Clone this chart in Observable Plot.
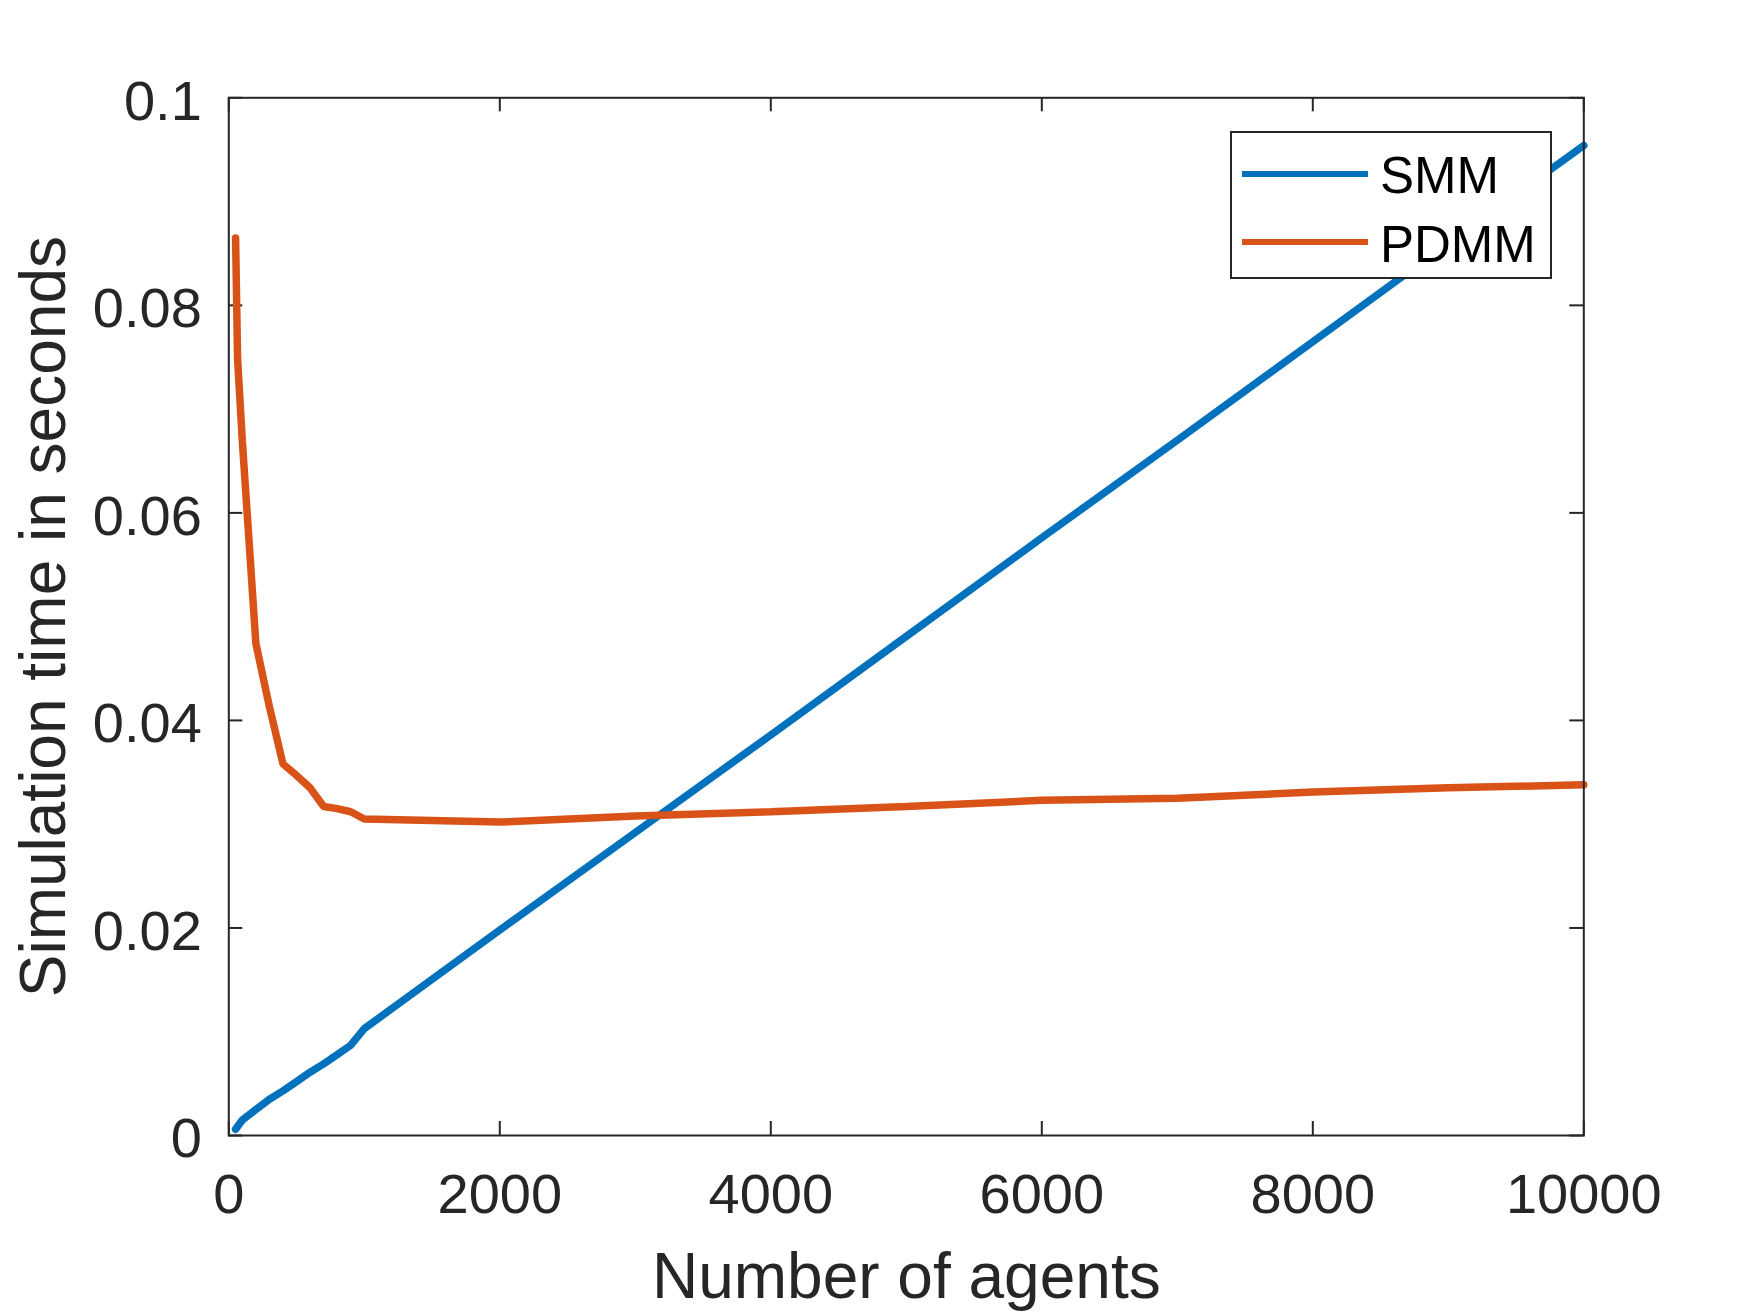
<!DOCTYPE html>
<html>
<head>
<meta charset="utf-8">
<script src="https://cdn.jsdelivr.net/npm/d3@7"></script>
<script src="https://cdn.jsdelivr.net/npm/@observablehq/plot@0.6"></script>
<style>
  html, body { margin: 0; padding: 0; background: #fff; }
  #wrap { position: relative; width: 1750px; height: 1313px; font-family: "Liberation Sans", Arial, sans-serif; }
  #legend { position: absolute; left: 1230px; top: 131px; width: 318px; height: 144px; border: 2px solid #262626; background: #fff; }
  .sw { position: absolute; left: 10px; width: 126px; height: 6px; }
  .lt { position: absolute; left: 148px; font-size: 51px; line-height: 1; color: #000; white-space: nowrap; }
</style>
</head>
<body>
<div id="wrap"></div>
<script>
// ---- data ----
const smmAgents  = [50, 100, 200, 300, 400, 500, 600, 700, 800, 900, 1000, 2000, 3000, 4000, 5000, 6000, 7000, 8000, 9000, 10000];
const smmTime    = [0.0006, 0.0015, 0.0025, 0.0035, 0.0043, 0.0052, 0.0061, 0.0069, 0.0078, 0.0087, 0.0103, 0.0198, 0.0292, 0.0386, 0.0481, 0.0576, 0.0670, 0.0765, 0.0860, 0.0954];
const pdmmAgents = [50, 65, 100, 200, 300, 400, 500, 600, 700, 800, 900, 1000, 2000, 3000, 4000, 5000, 6000, 7000, 8000, 9000, 10000];
const pdmmTime   = [0.0865, 0.0748, 0.0669, 0.0474, 0.0413, 0.0358, 0.0347, 0.0335, 0.0317, 0.0315, 0.0312, 0.0305, 0.0302, 0.0308, 0.0312, 0.0317, 0.0323, 0.0325, 0.0331, 0.0335, 0.0338];
const seriesNames = ["SMM", "PDMM"];
const seriesColors = ["#0072BD", "#D95319"];
const xTicks = [0, 2000, 4000, 6000, 8000, 10000];
const yTicks = [0, 0.02, 0.04, 0.06, 0.08, 0.1];
const xLabel = "Number of agents";
const yLabel = "Simulation time in seconds";

const smm = smmAgents.map((x, i) => ({x, y: smmTime[i]}));
const pdmm = pdmmAgents.map((x, i) => ({x, y: pdmmTime[i]}));

const W = 1750, H = 1313;
const mL = 228.3, mR = 166.7, mT = 97.3, mB = 178;
const fw = W - mL - mR, fh = H - mT - mB;
const axisColor = "#262626";
const tickLen = 14;

const chart = Plot.plot({
  width: W,
  height: H,
  marginLeft: mL,
  marginRight: mR,
  marginTop: mT,
  marginBottom: mB,
  style: {fontFamily: "'Liberation Sans', Arial, sans-serif", fontSize: "56px", color: axisColor, background: "#fff", overflow: "visible"},
  x: {domain: [0, 10000]},
  y: {domain: [0, 0.1]},
  marks: [
    // inward tick marks on all four sides
    Plot.ruleX(xTicks, {x: d => d, insetTop: fh - tickLen, stroke: axisColor, strokeWidth: 2}),
    Plot.ruleX(xTicks, {x: d => d, insetBottom: fh - tickLen, stroke: axisColor, strokeWidth: 2}),
    Plot.ruleY(yTicks, {y: d => d, insetRight: fw - tickLen, stroke: axisColor, strokeWidth: 2}),
    Plot.ruleY(yTicks, {y: d => d, insetLeft: fw - tickLen, stroke: axisColor, strokeWidth: 2}),
    Plot.axisX({ticks: xTicks, tickSize: 0, tickPadding: 38, tickFormat: d => String(d), label: null, fill: axisColor}),
    Plot.axisY({ticks: yTicks, tickSize: 0, tickPadding: 27, dy: 4, tickFormat: d => String(d), label: null, fill: axisColor}),
    Plot.line(smm, {x: "x", y: "y", stroke: seriesColors[0], strokeWidth: 7.5, strokeLinejoin: "miter"}),
    Plot.line(pdmm, {x: "x", y: "y", stroke: seriesColors[1], strokeWidth: 7.5, strokeLinejoin: "miter"}),
    Plot.frame({stroke: axisColor, strokeWidth: 2}),
    Plot.text([xLabel], {text: d => d, frameAnchor: "bottom", dy: 117, textAnchor: "middle", lineAnchor: "top", fontSize: 64, fill: axisColor}),
    Plot.text([yLabel], {text: d => d, frameAnchor: "left", dx: 44 - mL, rotate: -90, textAnchor: "middle", lineAnchor: "middle", fontSize: 64, fill: axisColor})
  ]
});

const wrap = document.getElementById("wrap");
wrap.appendChild(chart);

const legend = document.createElement("div");
legend.id = "legend";
const swTops = [38, 106];
const txtTops = [17, 86];
seriesNames.forEach((name, i) => {
  const sw = document.createElement("div");
  sw.className = "sw";
  sw.style.top = swTops[i] + "px";
  sw.style.background = seriesColors[i];
  legend.appendChild(sw);
  const t = document.createElement("div");
  t.className = "lt";
  t.style.top = txtTops[i] + "px";
  t.textContent = name;
  legend.appendChild(t);
});
wrap.appendChild(legend);
</script>
</body>
</html>
